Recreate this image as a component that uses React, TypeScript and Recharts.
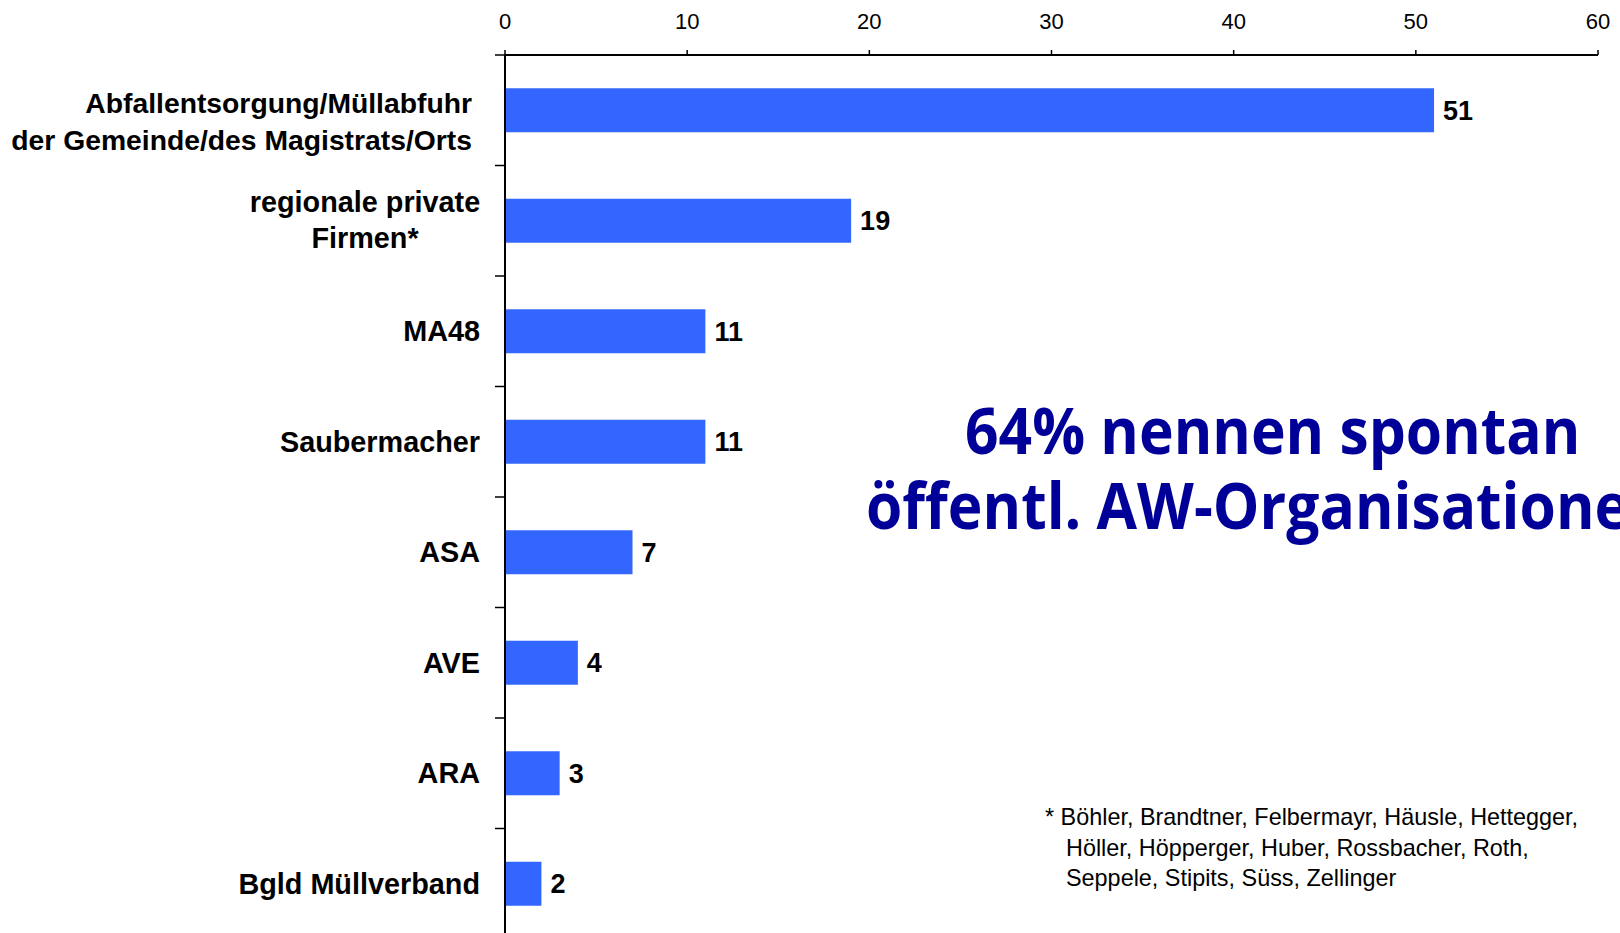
import { BarChart, Bar, XAxis, YAxis, LabelList } from 'recharts';

const categories = [
  'Abfallentsorgung/Müllabfuhr\nder Gemeinde/des Magistrats/Orts',
  'regionale private\nFirmen*',
  'MA48',
  'Saubermacher',
  'ASA',
  'AVE',
  'ARA',
  'Bgld Müllverband',
];
const counts = [51, 19, 11, 11, 7, 4, 3, 2];
const xTicks = [0, 10, 20, 30, 40, 50, 60];
const headline = ['64% nennen spontan', 'öffentl. AW-Organisationen'];
const footnote = [
  '* Böhler, Brandtner, Felbermayr, Häusle, Hettegger,',
  'Höller, Höpperger, Huber, Rossbacher, Roth,',
  'Seppele, Stipits, Süss, Zellinger',
];

const data = categories.map((name, i) => ({ name, value: counts[i] }));

const FONT = '"Liberation Sans", Arial, sans-serif';
const PLOT_TOP = 55;
const PLOT_BOTTOM = 939;
const BAND = (PLOT_BOTTOM - PLOT_TOP) / categories.length;

function CategoryTick(props: any) {
  const { x, y, payload } = props;
  const idx = payload.index ?? props.index ?? 0;
  const lines = String(payload.value).split('\n');
  const top = y - BAND / 2;

  let anchor: 'end' | 'middle' = 'end';
  let tx = x - 25;
  let dys = [10];
  let size = 28.8;
  if (idx === 0) {
    tx = x - 33;
    dys = [3, 40];
    size = 28.3;
  } else if (idx === 1) {
    anchor = 'middle';
    tx = x - 140;
    dys = [-9, 27];
  }

  return (
    <g>
      <line x1={x - 10} x2={x} y1={top} y2={top} stroke="#000" strokeWidth={1.5} />
      {lines.map((ln, i) => (
        <text
          key={i}
          x={tx}
          y={y + dys[i]}
          textAnchor={anchor}
          fontFamily={FONT}
          fontWeight="bold"
          fontSize={size}
          fill="#000"
        >
          {ln}
        </text>
      ))}
    </g>
  );
}

export default function App() {
  return (
    <div
      style={{
        position: 'absolute',
        top: 0,
        left: 0,
        width: 1620,
        height: 933,
        overflow: 'hidden',
        background: '#fff',
      }}
    >
      <BarChart
        width={1620}
        height={945}
        data={data}
        layout="vertical"
        barCategoryGap="30%"
        margin={{ top: 0, right: 22, bottom: 6, left: 0 }}
      >
        <XAxis
          type="number"
          orientation="top"
          domain={[0, 60]}
          ticks={xTicks}
          height={55}
          tickSize={5}
          tickMargin={21}
          axisLine={{ stroke: '#000', strokeWidth: 2 }}
          tickLine={{ stroke: '#000', strokeWidth: 1.5 }}
          tick={{ fontFamily: FONT, fontSize: 22, fill: '#000' }}
        />
        <YAxis
          type="category"
          dataKey="name"
          width={505}
          tickSize={0}
          tickMargin={0}
          interval={0}
          axisLine={{ stroke: '#000', strokeWidth: 2 }}
          tickLine={false}
          tick={<CategoryTick />}
        />
        <Bar dataKey="value" fill="#3366FF" isAnimationActive={false}>
          <LabelList
            dataKey="value"
            position="right"
            offset={9}
            fill="#000"
            fontFamily={FONT}
            fontWeight="bold"
            fontSize={27}
          />
        </Bar>
      </BarChart>

      <svg
        width={1620}
        height={933}
        style={{ position: 'absolute', top: 0, left: 0, pointerEvents: 'none' }}
      >
        <g transform="translate(965,454) scale(0.918,1)">
          <text x={0} y={0} fontFamily='"Open Sans", sans-serif' fontWeight={700} fontSize={64} fill="#000099">
            {headline[0]}
          </text>
        </g>
        <g transform="translate(866,529) scale(0.918,1)">
          <text x={0} y={0} fontFamily='"Open Sans", sans-serif' fontWeight={700} fontSize={64} fill="#000099">
            {headline[1]}
          </text>
        </g>
        {footnote.map((ln, i) => (
          <text
            key={i}
            x={i === 0 ? 1045 : 1066}
            y={825 + i * 30.7}
            fontFamily={FONT}
            fontSize={23.4}
            fill="#000"
          >
            {ln}
          </text>
        ))}
      </svg>
    </div>
  );
}
